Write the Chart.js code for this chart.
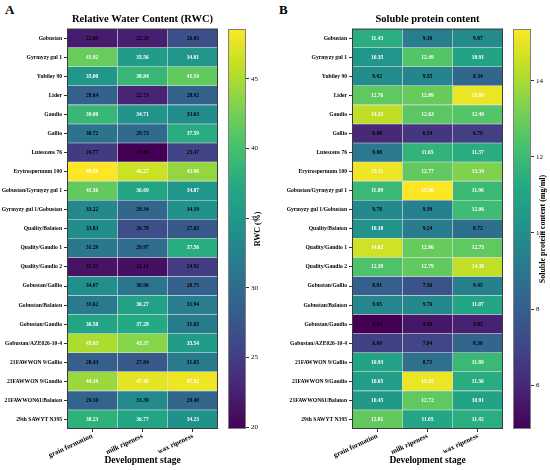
<!DOCTYPE html>
<html>
<head>
<meta charset="utf-8">
<script src="https://cdn.jsdelivr.net/npm/chart.js@4.4.0/dist/chart.umd.min.js"></script>
<style>
    body { margin: 0; background: #fff; width: 550px; height: 470px; position: relative; overflow: hidden; }
    canvas { position: absolute; top: 0; }
    .letter { position: absolute; top: 2px; font: bold 13px "Liberation Serif", serif; color: #000; }
</style>
</head>
<body>
<div class="letter" style="left:5px">A</div>
<div class="letter" style="left:279px">B</div>
<canvas id="heatA" width="222" height="470" style="left:0"></canvas>
<canvas id="barA" width="55" height="470" style="left:220px"></canvas>
<canvas id="heatB" width="232" height="470" style="left:275px"></canvas>
<canvas id="barB" width="45" height="470" style="left:505px"></canvas>
<script>
const genotypes = ['Gobustan', 'Gyrmyzy gul 1', 'Yubiley 90', 'Lider', 'Gaudio', 'Gallio', 'Lutescens 76',
    'Erytrospermum 100', 'Gobustan/Gyrmyzy gul 1', 'Gyrmyzy gul 1/Gobustan', 'Quality/Balaton',
    'Quality/Gaudio 1', 'Quality/Gaudio 2', 'Gobustan/Gallio', 'Gobustan/Balaton', 'Gobustan/Gaudio',
    'Gobustan/AZE026-10-4', '21FAWWON 9/Gallio', '21FAWWON 9/Gaudio', '21FAWWON61/Balaton', '29th SAWYT N395'];
const stages = ['grain formation', 'milk ripeness', 'wax ripeness'];

// Relative water content (%)
const rwcGrain = [22.09, 41.92, 35.00, 28.64, 39.00, 30.72, 24.77, 48.58, 41.56, 33.22, 33.83, 31.29, 21.32, 34.07, 31.62, 36.58, 45.03, 28.43, 44.19, 29.10, 38.23];
const rwcMilk  = [22.29, 35.56, 38.84, 22.73, 34.71, 29.73, 19.86, 46.27, 36.69, 29.34, 26.78, 29.97, 21.11, 30.96, 36.27, 37.28, 43.37, 27.84, 47.45, 33.39, 36.77];
const rwcWax   = [26.83, 34.81, 41.54, 28.92, 33.63, 37.59, 25.47, 43.96, 34.87, 34.19, 27.65, 37.56, 24.92, 28.75, 31.94, 31.65, 35.54, 31.65, 47.92, 29.40, 34.23];

// Soluble protein content (mg/ml)
const proteinGrain = [11.43, 10.35, 9.92, 12.76, 14.33, 6.08, 9.08, 15.11, 11.89, 9.78, 10.18, 14.62, 12.39, 8.01, 9.65, 4.85, 6.89, 10.93, 10.65, 10.45, 12.81];
const proteinMilk  = [9.30, 12.49, 9.55, 12.89, 12.63, 6.54, 11.65, 12.77, 15.36, 9.39, 9.24, 12.86, 12.79, 7.56, 9.76, 5.50, 7.04, 8.71, 15.05, 12.72, 11.05];
const proteinWax   = [9.87, 10.91, 8.34, 15.06, 12.49, 6.79, 11.37, 13.34, 11.96, 12.06, 8.72, 12.75, 14.36, 9.45, 11.07, 5.82, 8.30, 11.89, 11.36, 10.91, 11.42];

const rwcTicks = [20, 25, 30, 35, 40, 45];
const proteinTicks = [6, 8, 10, 12, 14];

const SERIF = "'Liberation Serif', 'Times New Roman', serif";
const viridisStops = ['#440154', '#482475', '#414487', '#355f8d', '#2a788e', '#21918c',
    '#22a884', '#44bf70', '#7ad151', '#bddf26', '#fde725'];

function hexRgb(h) {
    return [1, 3, 5].map(i => parseInt(h.slice(i, i + 2), 16));
}

function viridis(t) {
    t = Math.min(1, Math.max(0, t));
    const p = t * (viridisStops.length - 1);
    const i = Math.min(Math.floor(p), viridisStops.length - 2);
    const f = p - i;
    const a = hexRgb(viridisStops[i]), b = hexRgb(viridisStops[i + 1]);
    const c = a.map((v, k) => Math.round(v + (b[k] - v) * f));
    return `rgb(${c[0]},${c[1]},${c[2]})`;
}

// numbers written in each cell
const cellText = {
    id: 'cellText',
    afterDatasetsDraw(chart) {
        const ctx = chart.ctx;
        ctx.save();
        ctx.font = `bold 5.5px ${SERIF}`;
        ctx.textAlign = 'center';
        ctx.textBaseline = 'middle';
        chart.data.datasets.forEach((ds, i) => {
            chart.getDatasetMeta(i).data.forEach((bar, j) => {
                const {x, y, base} = bar.getProps(['x', 'y', 'base'], true);
                ctx.fillStyle = ds.values[j] > ds.mid ? '#fff' : '#000';
                ctx.fillText(ds.values[j].toFixed(2), (x + base) / 2, y);
            });
        });
        ctx.restore();
    }
};

// box round the plot area
const frame = {
    id: 'frame',
    afterDraw(chart, args, opts) {
        const a = chart.chartArea;
        const ctx = chart.ctx;
        ctx.save();
        ctx.strokeStyle = opts.color || '#333';
        ctx.lineWidth = 1;
        ctx.strokeRect(a.left + 0.5, a.top + 0.5, a.right - a.left - 1, a.bottom - a.top - 1);
        ctx.restore();
    }
};

// colorbar label, reading bottom to top
const cbLabel = {
    id: 'cbLabel',
    afterDraw(chart, args, opts) {
        const a = chart.chartArea;
        const ctx = chart.ctx;
        ctx.save();
        ctx.translate(opts.x, (a.top + a.bottom) / 2);
        ctx.rotate(-Math.PI / 2);
        ctx.font = `bold 8px ${SERIF}`;
        ctx.fillStyle = '#000';
        ctx.textAlign = 'center';
        ctx.textBaseline = 'middle';
        ctx.fillText(opts.text, 0, 0);
        ctx.restore();
    }
};

function heatmap(id, title, cols, yWidth) {
    const all = cols.flat();
    const lo = Math.min(...all), hi = Math.max(...all);
    return new Chart(document.getElementById(id), {
        type: 'bar',
        data: {
            labels: genotypes,
            datasets: cols.map((vals, i) => ({
                label: stages[i],
                data: vals.map(() => 1),
                values: vals,
                mid: (lo + hi) / 2,
                backgroundColor: vals.map(v => viridis((v - lo) / (hi - lo))),
                borderColor: 'rgba(215,215,215,0.55)',
                borderWidth: 0.6,
                borderSkipped: false,
                barPercentage: 1,
                categoryPercentage: 1
            }))
        },
        options: {
            indexAxis: 'y',
            responsive: false,
            animation: false,
            layout: { padding: { right: 4, left: 0, bottom: 0 } },
            plugins: {
                legend: { display: false },
                tooltip: { enabled: false },
                frame: { color: '#3a3a3a' },
                title: {
                    display: true,
                    text: title,
                    fullSize: false,
                    color: '#000',
                    font: { family: SERIF, size: 10.5, weight: 'bold' },
                    padding: { top: 13, bottom: 3 }
                }
            },
            scales: {
                x: {
                    type: 'linear',
                    stacked: true,
                    min: 0,
                    max: 3,
                    afterBuildTicks: s => { s.ticks = stages.map((_, i) => ({ value: i + 0.5 })); },
                    ticks: {
                        callback: v => stages[Math.floor(v)],
                        minRotation: 25,
                        maxRotation: 25,
                        padding: 0,
                        color: '#000',
                        font: { family: SERIF, size: 7, weight: 'bold' }
                    },
                    grid: { drawOnChartArea: false, tickLength: 3, color: '#333' },
                    border: { display: false },
                    title: {
                        display: true,
                        text: 'Development stage',
                        color: '#000',
                        font: { family: SERIF, size: 9.5, weight: 'bold' },
                        padding: { top: 0, bottom: 4 }
                    },
                    afterFit: s => { s.height = 41; }
                },
                y: {
                    stacked: true,
                    grid: { offset: false, drawOnChartArea: false, tickLength: 3, color: '#333' },
                    border: { display: false },
                    ticks: {
                        padding: 2,
                        color: '#000',
                        font: { family: SERIF, size: 5.6, weight: 'bold' }
                    },
                    afterFit: s => { s.width = yWidth; }
                }
            }
        },
        plugins: [cellText, frame]
    });
}

function colorbar(id, cols, tickVals, label, axisWidth) {
    const all = cols.flat();
    const lo = Math.min(...all), hi = Math.max(...all);
    return new Chart(document.getElementById(id), {
        type: 'bar',
        data: {
            labels: [''],
            datasets: [{
                data: [[lo, hi]],
                backgroundColor: c => {
                    const a = c.chart.chartArea;
                    if (!a) return viridisStops[5];
                    const g = c.chart.ctx.createLinearGradient(0, a.bottom, 0, a.top);
                    viridisStops.forEach((s, i) => g.addColorStop(i / (viridisStops.length - 1), s));
                    return g;
                },
                borderWidth: 0,
                barPercentage: 1,
                categoryPercentage: 1
            }]
        },
        options: {
            responsive: false,
            animation: false,
            layout: { padding: { top: 29, bottom: 41, left: 8, right: 0 } },
            plugins: {
                legend: { display: false },
                tooltip: { enabled: false },
                frame: { color: '#808080' },
                cbLabel: { text: label, x: 38 }
            },
            scales: {
                x: { display: false },
                y: {
                    position: 'right',
                    min: lo,
                    max: hi,
                    beginAtZero: false,
                    afterBuildTicks: s => { s.ticks = tickVals.map(v => ({ value: v })); },
                    ticks: {
                        padding: 2,
                        color: '#000',
                        font: { family: SERIF, size: 7 }
                    },
                    grid: { drawOnChartArea: false, tickLength: 3, color: '#333' },
                    border: { display: false },
                    afterFit: s => { s.width = axisWidth; }
                }
            }
        },
        plugins: [frame, cbLabel]
    });
}

heatmap('heatA', 'Relative Water Content (RWC)', [rwcGrain, rwcMilk, rwcWax], 67);
colorbar('barA', [rwcGrain, rwcMilk, rwcWax], rwcTicks, 'RWC (%)', 29);
heatmap('heatB', 'Soluble protein content', [proteinGrain, proteinMilk, proteinWax], 77);
colorbar('barB', [proteinGrain, proteinMilk, proteinWax], proteinTicks, 'Soluble protein content (mg/ml)', 19);
</script>
</body>
</html>
